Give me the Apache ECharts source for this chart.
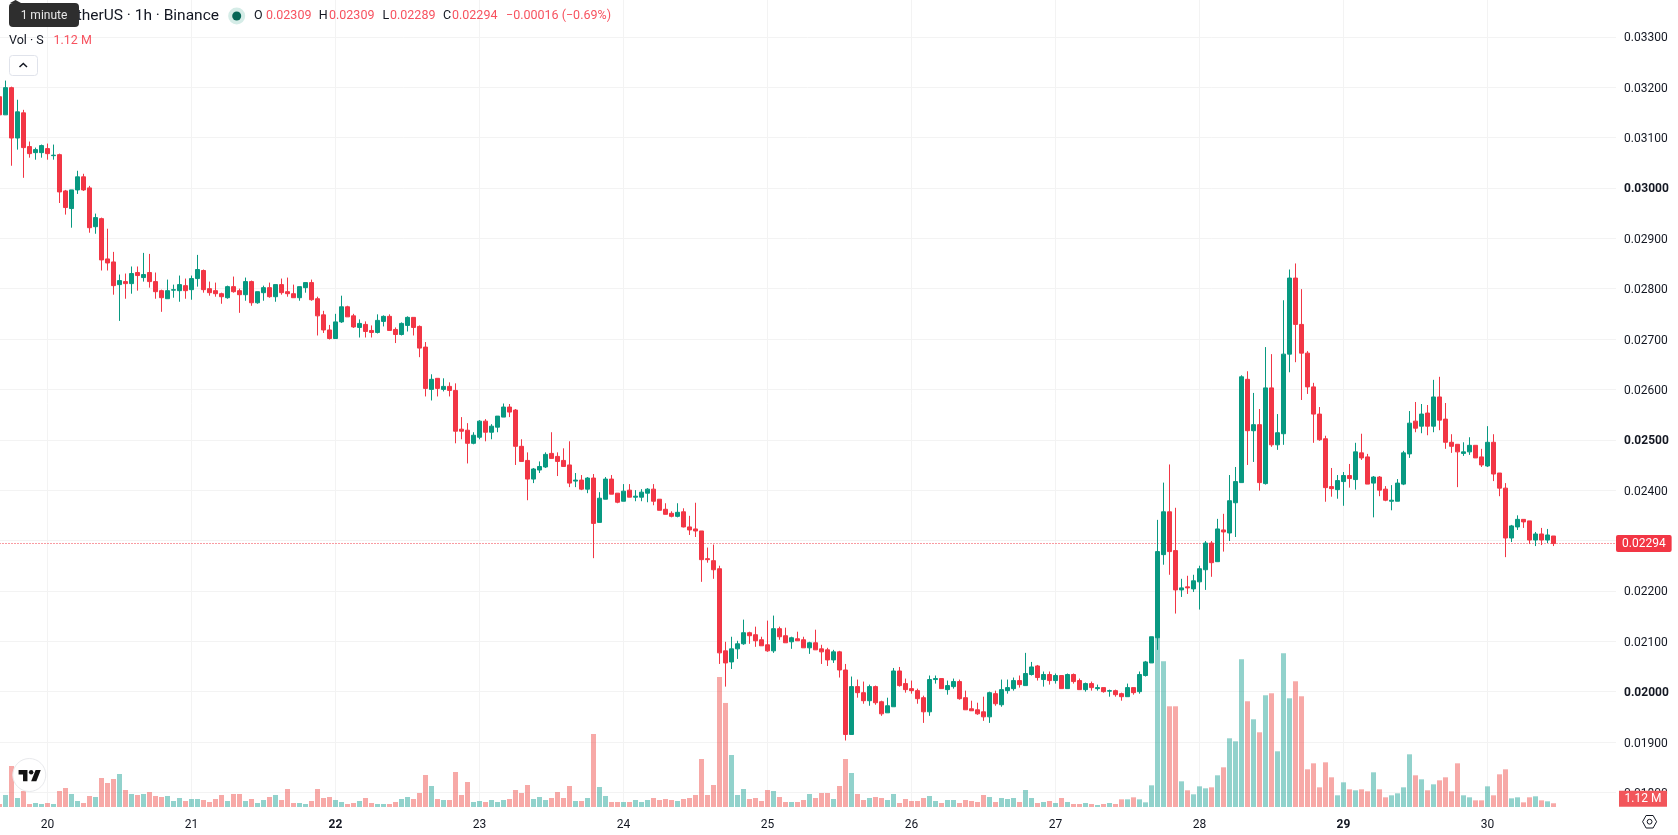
<!DOCTYPE html>
<html>
<head>
<meta charset="utf-8">
<title>TetherUS 1h chart</title>
<script src="https://cdn.jsdelivr.net/npm/echarts@6/dist/echarts.min.js"></script>
<style>
html,body{margin:0;padding:0;background:#fff;overflow:hidden}
#chart{width:1678px;height:835px}
</style>
</head>
<body>
<div id="chart"></div>
<script>
// Hourly candles; prices are integers in units of 0.00001.
const PRICE_UNIT = 1e-5;
const opens = [
3181,3145,3199,3099,3149,3082,3070,3070,3078,3064,3066,2994,2959,2996,3022,3000,2923,2939,2859,2853,
2808,2814,2810,2832,2822,2832,2814,2796,2780,2797,2796,2806,2798,2820,2836,2800,2796,2790,2782,2804,
2796,2788,2814,2772,2792,2802,2784,2808,2794,2790,2782,2802,2812,2780,2748,2718,2701,2734,2764,2746,
2723,2729,2717,2713,2735,2745,2719,2709,2727,2743,2725,2684,2600,2622,2600,2606,2598,2521,2519,2493,
2505,2537,2515,2525,2545,2565,2559,2487,2459,2422,2440,2446,2473,2467,2459,2450,2418,2420,2402,2424,
2336,2382,2422,2394,2378,2400,2386,2386,2394,2402,2382,2362,2354,2348,2357,2327,2323,2319,2264,2260,
2244,2081,2059,2085,2095,2117,2113,2103,2093,2081,2125,2111,2099,2105,2103,2087,2097,2085,2083,2063,
2079,2043,1915,2010,1998,1982,2010,1980,1958,1970,2041,2016,2006,2002,1988,1960,2024,2026,2004,2010,
2020,1988,1966,1964,1960,1950,1996,1974,2002,2006,2022,2012,2034,2051,2024,2034,2022,2032,2006,2034,
2022,2004,2016,2006,2008,2001,2002,1996,1990,2008,2000,2032,2057,2107,2272,2357,2280,2202,2208,2204,
2218,2242,2295,2258,2321,2315,2375,2415,2620,2518,2530,2413,2603,2490,2512,2670,2821,2729,2672,2605,
2551,2502,2407,2401,2417,2429,2421,2474,2466,2414,2426,2402,2378,2378,2412,2472,2537,2527,2553,2527,
2585,2541,2495,2491,2473,2476,2489,2466,2448,2495,2434,2404,2305,2327,2342,2339,2301,2313,2301,2309];
const closes = [
3145,3199,3099,3151,3080,3068,3076,3084,3068,3065,2992,2961,2996,3022,2996,2921,2941,2857,2851,2806,
2816,2810,2830,2826,2828,2814,2794,2782,2796,2798,2808,2796,2820,2838,2798,2792,2790,2784,2804,2794,
2788,2814,2772,2794,2802,2784,2808,2792,2790,2782,2804,2812,2778,2746,2718,2701,2734,2764,2744,2724,
2731,2715,2713,2737,2745,2717,2709,2731,2743,2723,2682,2602,2620,2602,2606,2598,2517,2517,2493,2509,
2537,2515,2527,2547,2565,2555,2487,2457,2422,2442,2447,2471,2463,2457,2447,2414,2420,2402,2424,2334,
2384,2422,2392,2376,2398,2386,2388,2396,2402,2378,2360,2352,2348,2356,2327,2321,2319,2262,2262,2242,
2077,2057,2085,2095,2117,2111,2101,2091,2081,2125,2109,2097,2107,2101,2087,2097,2083,2079,2063,2079,
2043,1915,2010,1998,1982,2010,1978,1956,1972,2041,2012,2004,2002,1986,1960,2024,2026,2006,2012,2020,
1986,1964,1962,1956,1950,1998,1976,2004,2008,2022,2014,2036,2049,2028,2034,2022,2032,2006,2034,2020,
2004,2016,2008,2008,2000,2002,1994,1990,2008,1998,2034,2059,2109,2278,2357,2278,2202,2206,2206,2220,
2244,2295,2256,2323,2317,2379,2417,2625,2518,2530,2415,2603,2490,2514,2670,2821,2729,2672,2605,2551,
2500,2405,2403,2419,2429,2423,2476,2464,2412,2426,2400,2380,2380,2414,2474,2533,2523,2551,2527,2585,
2539,2495,2487,2476,2476,2489,2464,2450,2495,2432,2404,2305,2329,2342,2337,2301,2313,2301,2311,2294];
const highs = [
3190,3213,3201,3175,3155,3092,3080,3086,3088,3086,3068,2996,2996,3034,3028,3004,2949,2941,2919,2873,
2828,2830,2844,2844,2871,2869,2832,2798,2818,2808,2826,2820,2826,2867,2838,2814,2812,2792,2806,2824,
2800,2822,2816,2794,2806,2812,2808,2820,2822,2808,2804,2812,2818,2784,2756,2728,2750,2786,2766,2750,
2739,2735,2727,2749,2747,2749,2723,2733,2745,2743,2727,2694,2630,2622,2622,2614,2612,2545,2533,2515,
2539,2541,2531,2547,2572,2571,2561,2501,2475,2444,2457,2475,2515,2475,2483,2497,2434,2430,2426,2432,
2396,2426,2430,2394,2412,2412,2400,2402,2404,2412,2382,2374,2358,2374,2364,2349,2375,2319,2286,2292,
2250,2099,2109,2101,2143,2119,2129,2109,2141,2151,2129,2127,2109,2119,2109,2099,2123,2093,2087,2083,
2081,2055,2030,2024,2020,2014,2012,1982,1988,2047,2049,2026,2022,2006,1992,2032,2032,2026,2022,2026,
2024,2002,1982,1978,1990,2000,2002,2024,2024,2028,2032,2077,2059,2053,2040,2040,2036,2032,2036,2036,
2026,2018,2020,2014,2008,2004,2004,1998,2016,2008,2040,2061,2109,2341,2415,2451,2365,2224,2230,2232,
2250,2299,2299,2343,2353,2430,2446,2628,2636,2593,2561,2684,2670,2551,2777,2838,2850,2799,2676,2613,
2565,2508,2444,2430,2436,2452,2494,2512,2472,2428,2428,2408,2410,2422,2478,2557,2575,2571,2569,2619,
2625,2573,2511,2491,2495,2505,2489,2482,2527,2511,2434,2414,2331,2350,2342,2339,2317,2325,2323,2309];
const lows = [
3130,3145,3044,3076,3020,3060,3056,3060,3056,3056,2970,2947,2921,2988,2994,2911,2909,2836,2836,2788,
2736,2780,2790,2796,2814,2802,2780,2754,2780,2782,2774,2780,2778,2804,2792,2786,2784,2770,2780,2792,
2752,2776,2766,2770,2776,2782,2774,2788,2784,2782,2776,2792,2776,2707,2712,2699,2701,2732,2744,2722,
2703,2703,2703,2711,2725,2717,2692,2707,2715,2707,2664,2586,2578,2586,2596,2586,2493,2501,2453,2491,
2501,2497,2501,2515,2545,2545,2450,2457,2380,2414,2434,2444,2463,2428,2447,2406,2406,2400,2394,2265,
2336,2382,2392,2374,2378,2386,2378,2378,2376,2370,2360,2352,2346,2346,2326,2311,2307,2218,2256,2224,
2055,2010,2045,2065,2093,2095,2089,2091,2079,2077,2103,2097,2085,2101,2087,2075,2083,2055,2051,2057,
2028,1903,1915,1988,1976,1972,1974,1952,1958,1970,2010,1998,1996,1976,1938,1952,2016,2006,1994,2006,
1984,1964,1962,1954,1942,1938,1972,1970,1996,2002,2008,2012,2032,2022,2010,2014,2016,2006,2006,2016,
2004,2000,2002,2002,1998,1990,1990,1982,1990,1994,1996,2030,2057,2083,2252,2232,2155,2188,2194,2198,
2163,2202,2228,2258,2278,2299,2307,2415,2450,2456,2399,2411,2486,2480,2490,2634,2654,2579,2591,2494,
2498,2377,2387,2383,2369,2405,2401,2460,2412,2346,2388,2378,2360,2378,2410,2464,2515,2513,2509,2515,
2519,2482,2474,2406,2468,2470,2464,2446,2446,2418,2388,2267,2297,2321,2325,2293,2289,2291,2295,2289];
// Hourly volume, in millions.
const volumes = [
0.9,3.6,12.3,2.7,4.8,0.9,1.2,0.9,1.2,0.9,4.8,5.7,3.9,1.8,1.2,3.3,3.0,8.7,7.2,8.4,
9.9,5.1,3.9,3.6,3.9,4.5,3.3,3.0,3.3,1.8,2.7,1.8,2.4,2.4,2.1,1.5,2.4,3.6,1.8,3.9,
3.9,1.8,2.4,1.2,2.1,3.0,3.6,2.1,5.4,1.2,1.2,0.9,1.8,5.4,2.7,3.0,2.1,1.5,0.9,1.2,
1.8,2.7,1.2,0.9,0.9,0.9,1.5,2.4,3.0,2.4,4.2,9.6,6.3,2.4,2.1,2.1,10.5,3.6,7.5,1.5,
1.8,1.5,2.1,1.5,2.1,2.4,5.1,4.2,6.6,2.4,3.0,2.1,2.7,4.5,2.7,6.3,1.8,1.8,2.7,21.9,
6.0,3.3,1.5,1.5,1.5,1.5,2.1,1.5,2.1,2.7,2.1,2.4,2.1,1.8,2.4,2.7,3.6,14.4,3.6,6.6,
39.0,31.2,15.6,3.6,5.4,2.4,2.7,1.8,5.1,4.8,3.0,1.5,1.5,1.5,2.1,3.9,2.7,4.2,4.2,2.4,
6.3,14.4,10.2,3.9,2.1,2.7,3.0,2.7,2.1,3.9,1.2,2.4,1.8,1.8,2.7,3.3,1.8,1.2,2.1,2.1,
1.2,2.1,1.8,1.5,3.6,3.0,1.5,2.7,2.4,2.7,1.5,5.1,2.7,1.2,1.5,1.8,1.2,2.7,1.5,0.9,
0.9,1.2,0.9,0.6,0.9,1.2,0.9,2.3,2.3,2.9,2.3,1.4,6.5,51.3,43.7,30.2,30.2,7.7,5.0,3.8,
6.2,5.6,5.9,9.5,11.9,20.6,19.7,44.3,31.7,26.3,22.4,33.5,34.1,16.7,46.1,32.6,37.7,33.2,11.3,13.1,
5.9,13.4,8.9,3.5,7.4,5.3,5.0,5.3,4.7,10.4,5.3,2.9,3.5,4.1,5.9,15.8,9.5,8.3,5.0,6.8,
8.0,8.9,4.7,13.1,3.5,2.9,2.0,2.0,6.2,3.5,9.8,11.3,2.6,2.9,1.4,2.9,3.2,2.0,1.7,1.12];

// Day-of-month labels, one per 24 hours, beginning one day before the first full day shown.
const dayTicks = [19,20,21,22,23,24,25,26,27,28,29,30];
const boldDays = [22,29];
const boldPrices = ['0.03000','0.02500','0.02000'];
const HOURS_BEFORE_DAY20 = 8;       // first candle sits 8 hours before the 20th
const lastPrice = closes[closes.length - 1] * PRICE_UNIT;

const UP = '#089981', DOWN = '#F23645';
const UP_VOL = 'rgba(38,166,154,0.5)', DOWN_VOL = 'rgba(239,83,80,0.5)';
const GRID = '#f3f3f3', INK = '#131722', SOFT_RED = '#F7525F';
const FONT = 'Roboto, "Noto Sans", sans-serif';

const candleData = opens.map((o, i) => [
  i - HOURS_BEFORE_DAY20,
  o * PRICE_UNIT, closes[i] * PRICE_UNIT, lows[i] * PRICE_UNIT, highs[i] * PRICE_UNIT
]);
const volumeData = volumes.map((v, i) => ({
  value: [i - HOURS_BEFORE_DAY20, v],
  itemStyle: { color: closes[i] >= opens[i] ? UP_VOL : DOWN_VOL }
}));

// Layout of the time scale: 6 px per hour, the 20th at x = 47.5, plot ends at x = 1616.
const X_MIN = -24, X_MAX = 261.41667;
const plotLeft = -96.5, plotWidth = 1712.5;

const headerText = (text, x, y, fill, font, align) => ({
  type: 'text', z: 100, silent: true,
  style: { text, x, y, fill, font: font || ('12.5px ' + FONT), textAlign: align || 'left', textVerticalAlign: 'middle' }
});
const logoPlace = { x: 17.1, y: 765.6, scaleX: 0.74, scaleY: 0.74 };

const overlays = [
  headerText('TetherUS · 1h · Binance', 219, 16, INK, '15.5px ' + FONT, 'right'),
  { type: 'circle', z: 100, silent: true, shape: { cx: 236.7, cy: 16, r: 8.5 }, style: { fill: '#d5ece7' } },
  { type: 'circle', z: 101, silent: true, shape: { cx: 236.7, cy: 16, r: 4.5 }, style: { fill: '#056656' } },
  headerText('O', 254, 16, INK),
  headerText('0.02309', 266, 16, SOFT_RED),
  headerText('H', 318.8, 16, INK),
  headerText('0.02309', 329, 16, SOFT_RED),
  headerText('L', 382.4, 16, INK),
  headerText('0.02289', 390, 16, SOFT_RED),
  headerText('C', 443, 16, INK),
  headerText('0.02294', 452, 16, SOFT_RED),
  headerText('−0.00016 (−0.69%)', 506, 16, SOFT_RED),
  headerText('Vol · S', 9, 40.7, INK),
  headerText('1.12 M', 53.5, 40.7, SOFT_RED),
  // collapse button
  { type: 'rect', z: 100, silent: true, shape: { x: 9.5, y: 55.5, width: 28, height: 20, r: 3 },
    style: { fill: '#fff', stroke: '#e0e3eb', lineWidth: 1 } },
  { type: 'polyline', z: 101, silent: true, shape: { points: [[19.5, 67], [23.3, 63.5], [27, 67]] },
    style: { fill: 'none', stroke: INK, lineWidth: 1.5 } },
  // hover hint over the symbol name
  { type: 'polygon', z: 110, silent: true, shape: { points: [[10, 3], [15.5, 0], [21, 3]] }, style: { fill: '#2e2e2e' } },
  { type: 'rect', z: 110, silent: true, shape: { x: 9, y: 3, width: 70, height: 24, r: 4 }, style: { fill: '#2e2e2e' } },
  { type: 'text', z: 111, silent: true, style: { text: '1 minute', x: 44, y: 15.5, fill: '#e8e8e8', font: '12px ' + FONT, textAlign: 'center', textVerticalAlign: 'middle' } },
  // logo badge
  { type: 'circle', z: 100, silent: true, shape: { cx: 29.3, cy: 775, r: 16.5 }, style: { fill: '#fff', stroke: '#e8e9ec', lineWidth: 1 } },
  Object.assign({ type: 'polygon', z: 101, silent: true, shape: { points: [[14, 6], [2, 6], [2, 12], [8, 12], [8, 21], [14, 21]] }, style: { fill: '#111' } }, logoPlace),
  Object.assign({ type: 'polygon', z: 101, silent: true, shape: { points: [[26, 21], [19, 21], [25, 6], [32, 6]] }, style: { fill: '#111' } }, logoPlace),
  Object.assign({ type: 'circle', z: 101, silent: true, shape: { cx: 19, cy: 9, r: 3 }, style: { fill: '#111' } }, logoPlace),
  // volume tag on the price scale
  { type: 'rect', z: 100, silent: true, shape: { x: 1619, y: 790.7, width: 48, height: 16 }, style: { fill: '#F2555A' } },
  { type: 'text', z: 101, silent: true, style: { text: '1.12 M', x: 1643, y: 799, fill: '#fff', font: '12px ' + FONT, textAlign: 'center', textVerticalAlign: 'middle' } },
  // settings icon
  { type: 'polygon', z: 100, silent: true,
    shape: { points: [[1642.6, 821.7], [1646.1, 815.5], [1653.1, 815.5], [1656.6, 821.7], [1653.1, 828], [1646.1, 828]] },
    style: { fill: 'none', stroke: INK, lineWidth: 1 } },
  { type: 'circle', z: 100, silent: true, shape: { cx: 1649.6, cy: 821.7, r: 2.4 }, style: { fill: 'none', stroke: INK, lineWidth: 1 } }
];

const chart = echarts.init(document.getElementById('chart'), null, { renderer: 'canvas' });
chart.setOption({
  animation: false,
  backgroundColor: '#fff',
  textStyle: { fontFamily: FONT },
  grid: [
    { left: plotLeft, width: plotWidth, top: -13.6, height: 806, outerBoundsMode: 'none', containLabel: false },
    { left: plotLeft, width: plotWidth, top: 0, height: 807, outerBoundsMode: 'none', containLabel: false }
  ],
  xAxis: [
    { type: 'value', gridIndex: 0, min: X_MIN, max: X_MAX, interval: 24, show: false, splitLine: { show: false } },
    { type: 'value', gridIndex: 1, min: X_MIN, max: X_MAX, interval: 24,
      axisLine: { show: false }, axisTick: { show: false },
      splitLine: { show: true, showMaxLine: false, lineStyle: { color: GRID, width: 1 } },
      axisLabel: {
        show: true, margin: 12, color: INK, fontSize: 12, showMinLabel: false, showMaxLabel: false,
        formatter: v => {
          const day = dayTicks[Math.round((v - X_MIN) / 24)];
          if (day === undefined) return '';
          return boldDays.includes(day) ? '{b|' + day + '}' : String(day);
        },
        rich: { b: { fontWeight: 'bold', fontSize: 12, color: INK, fontFamily: FONT } }
      } }
  ],
  yAxis: [
    { type: 'value', gridIndex: 0, position: 'right', min: 0.018, max: 0.034, interval: 0.001,
      axisLine: { show: false }, axisTick: { show: false },
      splitLine: { show: true, lineStyle: { color: GRID, width: 1 } },
      axisLabel: {
        show: true, inside: false, margin: 8, color: INK, fontSize: 12, padding: [3, 0, 0, 0],
        formatter: v => {
          const t = v.toFixed(5);
          return boldPrices.includes(t) ? '{b|' + t + '}' : t;
        },
        rich: { b: { fontWeight: 'bold', fontSize: 12, color: INK, fontFamily: FONT } }
      } },
    { type: 'value', gridIndex: 1, min: 0, max: 242, show: false, splitLine: { show: false } }
  ],
  graphic: { elements: overlays },
  series: [
    { type: 'bar', name: 'Volume', xAxisIndex: 1, yAxisIndex: 1, data: volumeData, barWidth: 5, z: 1, silent: true },
    { type: 'candlestick', name: 'Price', xAxisIndex: 0, yAxisIndex: 0, data: candleData, barWidth: 4, z: 3, clip: false, silent: true,
      encode: { x: 0, y: [1, 2, 3, 4] },
      itemStyle: { color: UP, color0: DOWN, borderColor: UP, borderColor0: DOWN, borderWidth: 1 },
      markLine: {
        silent: true, symbol: 'none', animation: false, z: 2, precision: 5,
        data: [{ yAxis: lastPrice }],
        lineStyle: { color: DOWN, width: 1, type: [1, 2], opacity: 1 },
        label: {
          show: true, position: 'end', distance: 0, color: '#fff', fontSize: 12, fontFamily: FONT,
          backgroundColor: DOWN, borderRadius: 2, padding: [3, 6, 2, 6],
          formatter: p => p.value.toFixed(5)
        }
      } }
  ]
});
</script>
</body>
</html>
